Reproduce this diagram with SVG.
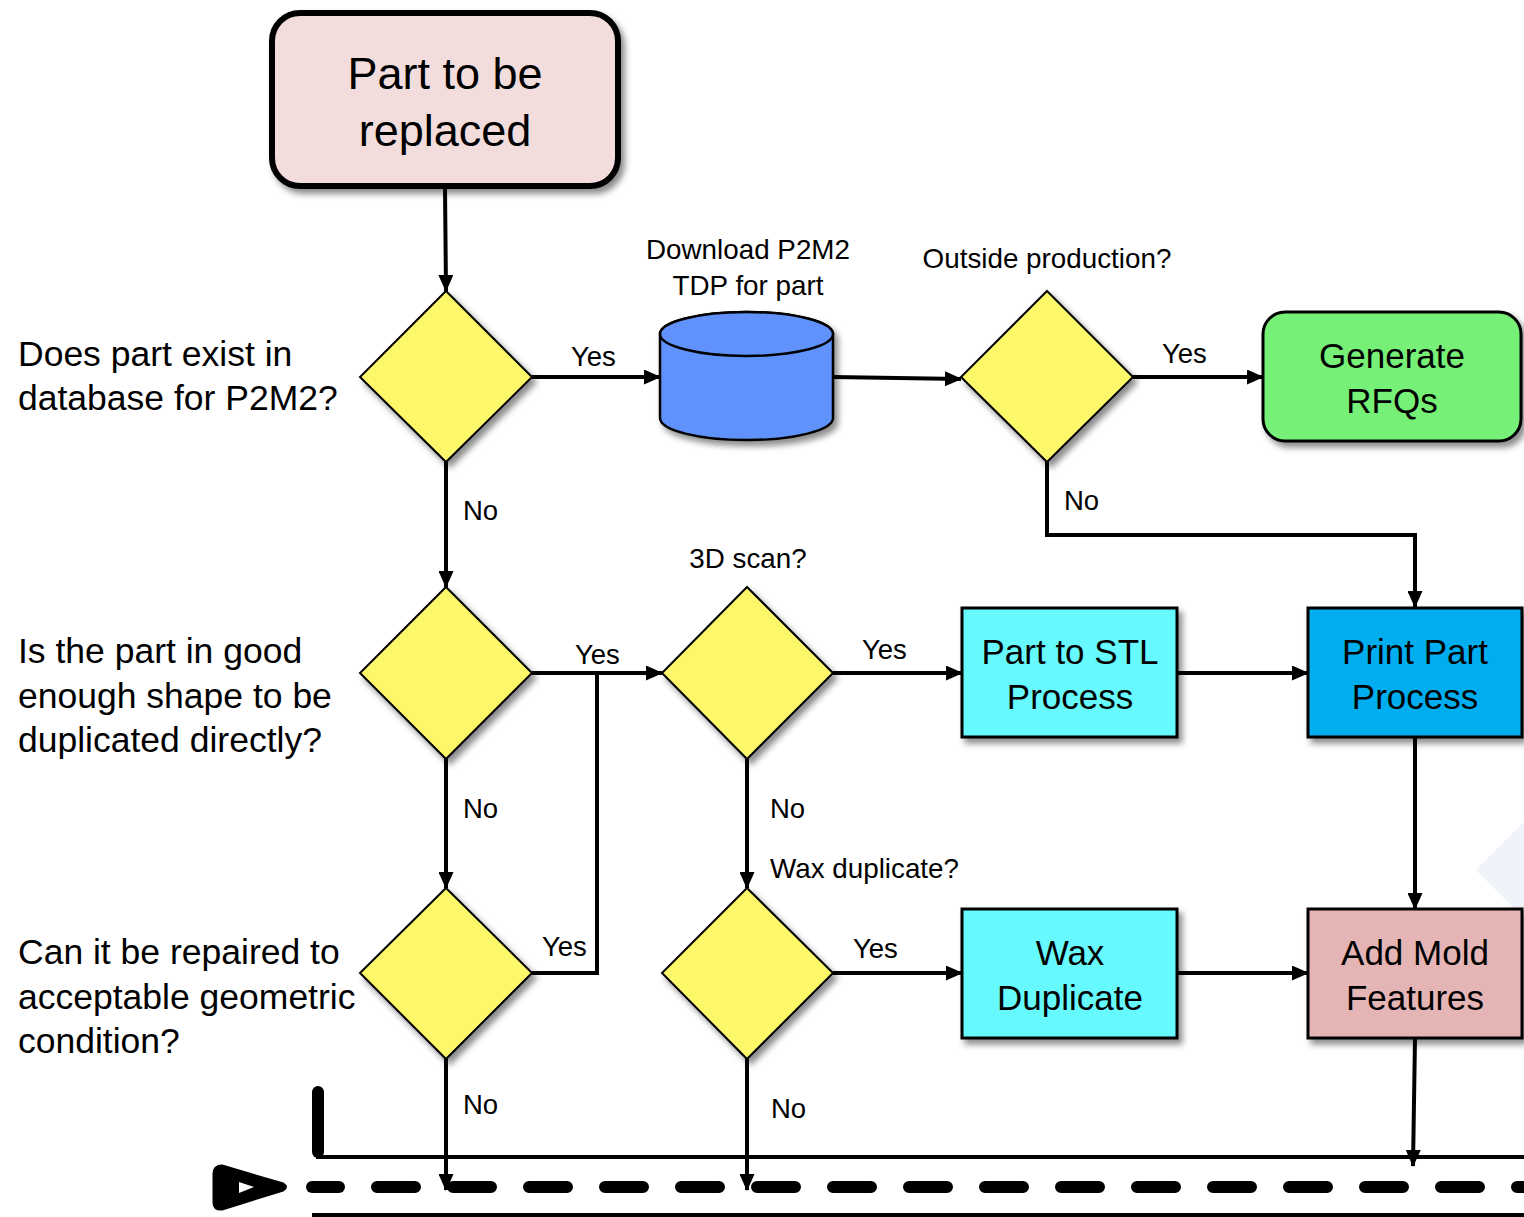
<svg xmlns="http://www.w3.org/2000/svg" width="1524" height="1217" viewBox="0 0 1524 1217">
<defs>
<filter id="sh" x="-20%" y="-20%" width="150%" height="150%">
<feDropShadow dx="4" dy="5" stdDeviation="3" flood-color="#000" flood-opacity="0.45"/>
</filter>
<marker id="ah" markerUnits="userSpaceOnUse" markerWidth="17" markerHeight="15" refX="16" refY="7.5" orient="auto">
<path d="M0,0 L17,7.5 L0,15 z" fill="#000"/>
</marker>
</defs>
<style>
text{font-family:"Liberation Sans",Arial,sans-serif;fill:#000}
.q{font-size:35.5px}
.lbl{font-size:27.5px}
.sm{font-size:27.8px}
.box{font-size:35px;text-anchor:middle}
.dia{fill:#fdf76a;stroke:#000;stroke-width:2;filter:url(#sh)}
.rect{stroke:#000;stroke-width:3;filter:url(#sh)}
.con{fill:none;stroke:#000;stroke-width:4}
.arr{marker-end:url(#ah)}
</style>
<rect width="1524" height="1217" fill="#fff"/>
<polygon points="1476,870 1524,822 1524,918" fill="#eef2f9"/>

<g id="start">
<rect x="272" y="13" width="346" height="173" rx="28" fill="#f2dcdc" stroke="#000" stroke-width="6" filter="url(#sh)"/>
<text x="445" y="89" font-size="45" text-anchor="middle">Part to be</text>
<text x="445" y="146" font-size="45" text-anchor="middle">replaced</text>
</g>

<g id="q1">
<polygon class="dia" points="446,291 532,377 446,462 360,377"/>
<text class="q" x="18" y="366">Does part exist in</text>
<text class="q" x="18" y="410">database for P2M2?</text>
</g>

<g id="db">
<path d="M660,334 L660,418 A86,22 0 0 0 833,418 L833,334 A86,22 0 0 0 660,334 z" fill="#6192fb" stroke="#000" stroke-width="2.5" filter="url(#sh)"/>
<ellipse cx="746.5" cy="334" rx="86.5" ry="22" fill="#6192fb" stroke="#000" stroke-width="2.5"/>
<text class="sm" x="748" y="259" text-anchor="middle">Download P2M2</text>
<text class="sm" x="748" y="295" text-anchor="middle">TDP for part</text>
</g>

<g id="q2">
<polygon class="dia" points="1047,291 1133,377 1047,462 961,377"/>
<text class="sm" x="1047" y="268" text-anchor="middle">Outside production?</text>
</g>

<g id="rfq">
<rect class="rect" x="1263" y="312" width="258" height="129" rx="22" fill="#76f076"/>
<text class="box" x="1392" y="368">Generate</text>
<text class="box" x="1392" y="413">RFQs</text>
</g>

<g id="q3">
<polygon class="dia" points="446,587 532,673 446,759 360,673"/>
<text class="q" x="18" y="663">Is the part in good</text>
<text class="q" x="18" y="708">enough shape to be</text>
<text class="q" x="18" y="752">duplicated directly?</text>
</g>

<g id="q4">
<polygon class="dia" points="747,587 833,673 747,759 662,673"/>
<text class="sm" x="748" y="568" text-anchor="middle">3D scan?</text>
</g>

<g id="stl">
<rect class="rect" x="962" y="608" width="215" height="129" fill="#66f9fd"/>
<text class="box" x="1070" y="664">Part to STL</text>
<text class="box" x="1070" y="709">Process</text>
</g>

<g id="print">
<rect class="rect" x="1308" y="608" width="214" height="129" fill="#00aeef"/>
<text class="box" x="1415" y="664">Print Part</text>
<text class="box" x="1415" y="709">Process</text>
</g>

<g id="q5">
<polygon class="dia" points="446,888 532,973 446,1059 360,973"/>
<text class="q" x="18" y="964">Can it be repaired to</text>
<text class="q" x="18" y="1009">acceptable geometric</text>
<text class="q" x="18" y="1053">condition?</text>
</g>

<g id="q6">
<polygon class="dia" points="747,888 833,973 747,1059 662,973"/>
<text class="sm" x="770" y="878">Wax duplicate?</text>
</g>

<g id="wax">
<rect class="rect" x="962" y="909" width="215" height="129" fill="#66f9fd"/>
<text class="box" x="1070" y="965">Wax</text>
<text class="box" x="1070" y="1010">Duplicate</text>
</g>

<g id="mold">
<rect class="rect" x="1308" y="909" width="214" height="129" fill="#e5b5b5"/>
<text class="box" x="1415" y="965">Add Mold</text>
<text class="box" x="1415" y="1010">Features</text>
</g>

<g id="lane">
<path d="M318,1092 L318,1157 L1524,1157" fill="none" stroke="#000" stroke-width="4"/>
<path d="M318,1092 L318,1152" stroke="#000" stroke-width="12" stroke-linecap="round"/>
<line x1="312" y1="1215" x2="1524" y2="1215" stroke="#000" stroke-width="4"/>
<line x1="312" y1="1187" x2="339" y2="1187" stroke="#000" stroke-width="12" stroke-linecap="round"/>
<line x1="377" y1="1187" x2="1524" y2="1187" stroke="#000" stroke-width="12" stroke-linecap="round" stroke-dasharray="38 38"/>
<path d="M222,1166 Q214,1166 214,1174 L214,1202 Q214,1210 222,1209 L283,1190 Q288,1187 283,1184 z" fill="#000" stroke="#000" stroke-width="3" stroke-linejoin="round"/>
<polygon points="239,1182 254,1187 239,1193" fill="#fff"/>
</g>

<g id="connectors">
<line class="con arr" x1="445" y1="188" x2="446" y2="291"/>
<line class="con arr" x1="532" y1="377" x2="660" y2="377"/>
<line class="con arr" x1="833" y1="377" x2="961" y2="379"/>
<line class="con arr" x1="1133" y1="377" x2="1263" y2="377"/>
<polyline class="con arr" points="1047,462 1047,535 1415,535 1415,607"/>
<line class="con arr" x1="446" y1="462" x2="446" y2="587"/>
<line class="con arr" x1="532" y1="673" x2="662" y2="673"/>
<polyline class="con" points="532,973 597,973 597,673"/>
<line class="con arr" x1="833" y1="673" x2="962" y2="673"/>
<line class="con arr" x1="1177" y1="673" x2="1308" y2="673"/>
<line class="con arr" x1="1415" y1="737" x2="1415" y2="909"/>
<line class="con arr" x1="446" y1="759" x2="446" y2="888"/>
<line class="con arr" x1="747" y1="759" x2="747" y2="888"/>
<line class="con arr" x1="833" y1="973" x2="962" y2="973"/>
<line class="con arr" x1="1177" y1="973" x2="1308" y2="973"/>
<line class="con arr" x1="1415" y1="1038" x2="1413" y2="1166"/>
<line class="con arr" x1="446" y1="1059" x2="446" y2="1190"/>
<line class="con arr" x1="747" y1="1059" x2="747" y2="1190"/>
<text class="lbl" x="571" y="366">Yes</text>
<text class="lbl" x="1162" y="363">Yes</text>
<text class="lbl" x="1064" y="510">No</text>
<text class="lbl" x="463" y="520">No</text>
<text class="lbl" x="575" y="664">Yes</text>
<text class="lbl" x="862" y="659">Yes</text>
<text class="lbl" x="542" y="956">Yes</text>
<text class="lbl" x="463" y="818">No</text>
<text class="lbl" x="770" y="818">No</text>
<text class="lbl" x="853" y="958">Yes</text>
<text class="lbl" x="463" y="1114">No</text>
<text class="lbl" x="771" y="1118">No</text>
</g>
</svg>
